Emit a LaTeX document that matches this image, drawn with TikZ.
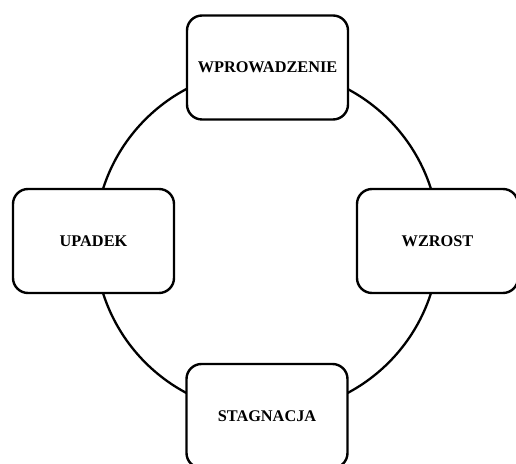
\documentclass[tikz,border=0pt]{standalone}
\usepackage{fontspec}
\setmainfont{Liberation Serif}
\begin{document}
\begin{tikzpicture}[x=1pt,y=1pt,
  stagebox/.style={draw=black, fill=white, line width=2.4pt, rounded corners=15pt,
    minimum width=161pt, minimum height=104pt, inner sep=0pt,
    font=\fontsize{16.3}{19}\selectfont\bfseries, text=black}]
\useasboundingbox (0,0) rectangle (516,463);
\coordinate (c) at (267,222);
\draw[line width=2.3pt, black] (c) circle (172);
\node[stagebox] (top) at (267.5,395.5) {WPROWADZENIE};
\node[stagebox] (right) at (437.5,222) {WZROST};
\node[stagebox] (bottom) at (267,47) {STAGNACJA};
\node[stagebox] (left) at (93.5,222) {UPADEK};
\end{tikzpicture}
\end{document}
